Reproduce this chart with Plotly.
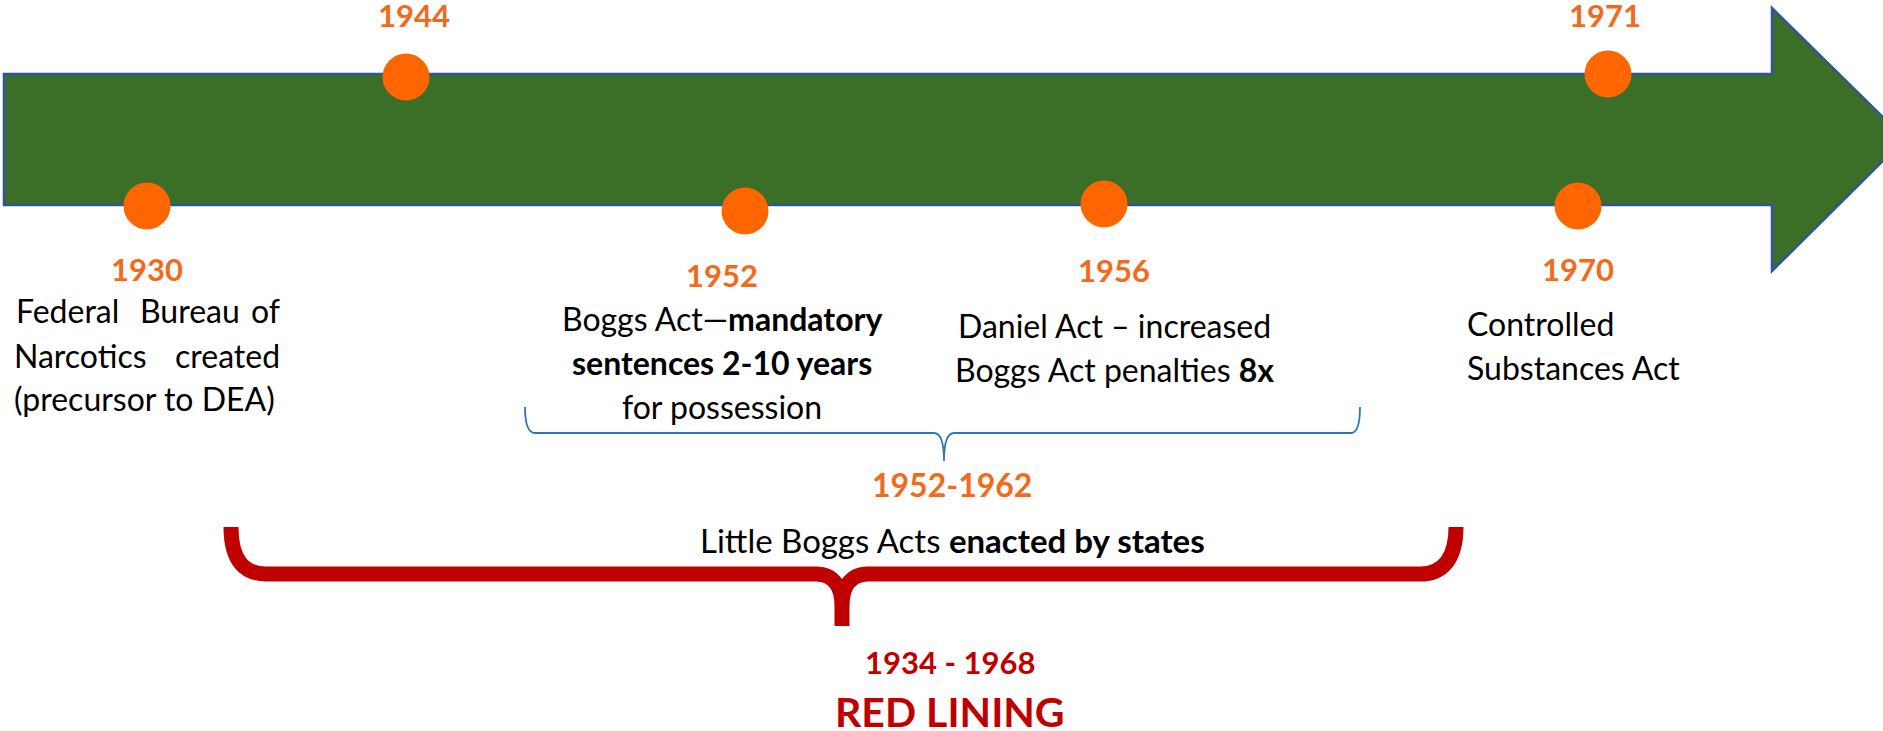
import plotly.graph_objects as go

W, H = 1883, 731

# timeline data
years = ["1930", "1944", "1952", "1956", "1970", "1971"]
event_lines = [
    ["Federal Bureau of", "Narcotics created", "(precursor to DEA)"],
    [],
    ["Boggs Act—<b>mandatory</b>", "<b>sentences 2-10 years</b>", "for possession"],
    ["Daniel Act – increased", "Boggs Act penalties <b>8x</b>"],
    ["Controlled", "Substances Act"],
    [],
]
span_years = ["1952-1962", "1934 - 1968"]
span_captions = ["Little Boggs Acts <b>enacted by states</b>", "<b>RED LINING</b>"]

# layout (pixel positions on the slide)
dot_x = [147, 406, 745, 1104, 1578, 1608]
dot_y = [206, 77, 211, 204, 206, 74]
year_x = [147, 414, 722, 1114, 1578, 1605]
year_y = [269, 15, 275, 270, 269, 15]
text_x = [147, None, 722, 1114, 1465, None]
text_y0 = [310, None, 318, 325, 323, None]
line_gap = 44

GREEN = "#3B6F27"
EDGE = "#2F5597"
ORANGE = "#FF6600"
YEAR_ORANGE = "#F26A1B"
DARK_RED = "#C00000"
FONT = "Lato"
TXT = 32

fig = go.Figure()

# arrow body + head
arrow = ("M 4,74 L 1772,74 L 1772,8 L 1905,139 L 1772,271 L 1772,205 "
         "L 4,205 Z")
fig.add_shape(type="path", path=arrow, fillcolor=GREEN,
              line=dict(color=EDGE, width=2.5), layer="below")

# blue brace
blue_brace = ("M 525,407 Q 525,433 535,433 L 934,433 Q 944,433 944,461 "
              "Q 944,433 954,433 L 1351,433 Q 1360,433 1360,407")
fig.add_shape(type="path", path=blue_brace, line=dict(color="#2E75B6", width=1.8))

# red brace
red_brace = ("M 231,527 C 231,560 244,574 266,574 L 816,574 "
             "C 834,574 842,588 842,606 L 842,626 M 842,606 "
             "C 842,588 850,574 868,574 L 1420,574 "
             "C 1442,574 1456,560 1456,527")
fig.add_shape(type="path", path=red_brace, line=dict(color=DARK_RED, width=15))

fig.add_trace(go.Scatter(
    x=dot_x, y=dot_y, mode="markers", hoverinfo="text", text=years,
    marker=dict(size=47, color=ORANGE, line=dict(width=0)),
    showlegend=False,
))


def note(x, y, text, size=TXT, color="black", anchor="center"):
    fig.add_annotation(x=x, y=y, xref="x", yref="y", text=text, showarrow=False,
                       xanchor=anchor, yanchor="middle",
                       font=dict(family=FONT, size=size, color=color))


for i, yr in enumerate(years):
    note(year_x[i], year_y[i], "<b>%s</b>" % yr, size=31, color=YEAR_ORANGE)

# first block is justified in the original, so place the words by hand
note(14, 310, "Federal", anchor="left")
note(190, 310, "Bureau")
note(282, 310, "of", anchor="right")
note(12, 355, "Narcotics", anchor="left")
note(282, 355, "created", anchor="right")
note(12, 398, "(precursor to DEA)", anchor="left")

for i, lines in enumerate(event_lines):
    if i == 0 or not lines:
        continue
    anchor = "left" if i == 4 else "center"
    for j, line in enumerate(lines):
        note(text_x[i], text_y0[i] + j * line_gap, line, anchor=anchor)

note(952, 484, "<b>%s</b>" % span_years[0], size=32, color=YEAR_ORANGE)
note(952, 540, span_captions[0], size=33)
note(950, 662, "<b>%s</b>" % span_years[1], size=31, color=DARK_RED)
note(950, 711, span_captions[1], size=41, color=DARK_RED)

fig.update_xaxes(range=[0, W], visible=False, fixedrange=True)
fig.update_yaxes(range=[H, 0], visible=False, fixedrange=True)
fig.update_layout(
    width=W, height=H,
    margin=dict(l=0, r=0, t=0, b=0),
    paper_bgcolor="white", plot_bgcolor="white",
)

fig.write_html("out.html", config={"displayModeBar": False},
               post_script="document.body.style.margin='0';")
